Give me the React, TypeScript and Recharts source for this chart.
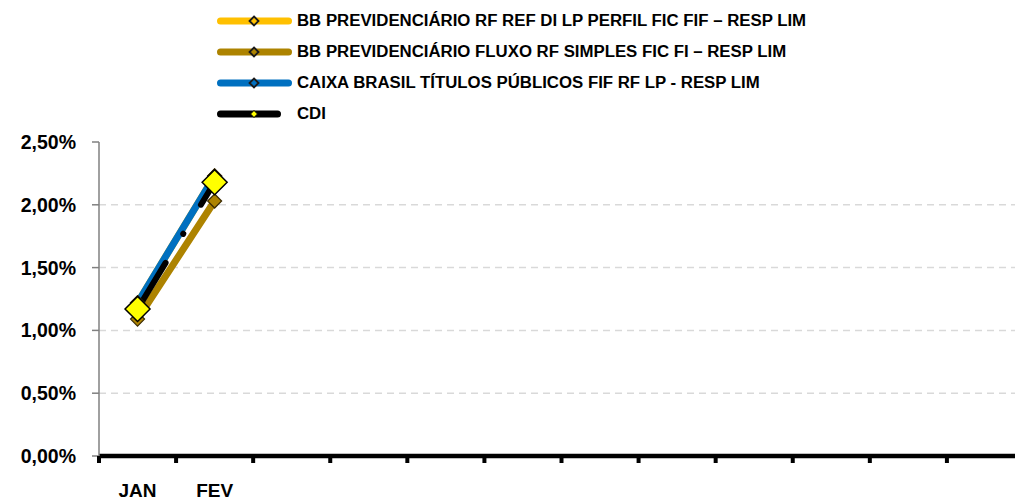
import React from "react"
import { LineChart, Line, XAxis, YAxis, CartesianGrid } from "recharts"

// categories on the x axis and the labels printed under them (only JAN/FEV are labelled)
const months = ["JAN", "FEV", "MAR", "ABR", "MAI", "JUN", "JUL", "AGO", "SET", "OUT", "NOV", "DEZ"]
const monthLabels = ["JAN", "FEV", "", "", "", "", "", "", "", "", "", ""]

// monthly accumulated return (fraction)
const bbPerfil = [0.0122, 0.0223, null, null, null, null, null, null, null, null, null, null]
const bbFluxo = [0.0109, 0.0203, null, null, null, null, null, null, null, null, null, null]
const caixaTitulos = [0.0122, 0.0223, null, null, null, null, null, null, null, null, null, null]
const cdi = [0.0117, 0.0218, null, null, null, null, null, null, null, null, null, null]

const yTicks = [0, 0.005, 0.01, 0.015, 0.02, 0.025]

const series = [
  { key: "perfil", name: "BB PREVIDENCIÁRIO RF REF DI LP PERFIL FIC FIF – RESP LIM", color: "#FFC000" },
  { key: "fluxo", name: "BB PREVIDENCIÁRIO FLUXO RF SIMPLES FIC FI – RESP LIM", color: "#AD8300" },
  { key: "caixa", name: "CAIXA BRASIL TÍTULOS PÚBLICOS FIF RF LP - RESP LIM", color: "#0070C0" },
  { key: "cdi", name: "CDI", color: "#000000" },
]

const data = months.map((m, i) => ({
  month: m,
  perfil: bbPerfil[i],
  fluxo: bbFluxo[i],
  caixa: caixaTitulos[i],
  cdi: cdi[i],
}))

const FONT = "'Liberation Sans', Arial, sans-serif"
const CHART_W = 1030
const CHART_H = 500
const Y_W = 99
const M_RIGHT = 6
const BAND = (CHART_W - Y_W - M_RIGHT) / months.length

const pct = (v: number) => (v * 100).toFixed(2).replace(".", ",") + "%"

function diamond(cx: number, cy: number, r: number) {
  return `M${cx},${cy - r}L${cx + r},${cy}L${cx},${cy + r}L${cx - r},${cy}Z`
}

const smallDot = (color: string) => (props: any) => {
  const { cx, cy, index } = props
  if (cx == null || cy == null) return <g key={index} />
  return <path key={index} d={diamond(cx, cy, 7)} fill={color} stroke="#3a2a00" strokeWidth={1.2} />
}

const bigDot = (props: any) => {
  const { cx, cy, index } = props
  if (cx == null || cy == null) return <g key={index} />
  return <path key={index} d={diamond(cx, cy, 12.5)} fill="#FFFF00" stroke="#000" strokeWidth={1.5} />
}

const MonthTick = (props: any) => {
  const { x, y, index } = props
  const half = BAND / 2
  return (
    <g>
      <line x1={x - half} x2={x - half} y1={y} y2={y + 7} stroke="#000" strokeWidth={4} />
      {index === months.length - 1 && (
        <line x1={x + half} x2={x + half} y1={y} y2={y + 7} stroke="#000" strokeWidth={4} />
      )}
      <text x={x} y={y + 41} textAnchor="middle" fontFamily={FONT} fontWeight="bold" fontSize={19} fill="#000">
        {monthLabels[index]}
      </text>
    </g>
  )
}

function ChartLegend() {
  return (
    <div style={{ position: "absolute", left: 212, top: 5 }}>
      {series.map((s) => {
        const isCdi = s.key === "cdi"
        return (
          <div key={s.key} style={{ display: "flex", alignItems: "center", height: 31 }}>
            <svg width={85} height={14} style={{ flex: "none" }}>
              <line x1={8.5} x2={isCdi ? 65.5 : 76.5} y1={7} y2={7} stroke={s.color} strokeWidth={7} strokeLinecap="round" />
              <path
                d={diamond(42, 7, isCdi ? 3.5 : 4.5)}
                fill={isCdi ? "#FFFF00" : s.color}
                stroke={isCdi ? "#000" : "#1a1a1a"}
                strokeWidth={isCdi ? 1 : 1.8}
              />
            </svg>
            <span style={{ fontFamily: FONT, fontWeight: "bold", fontSize: 16.8, color: "#000", whiteSpace: "nowrap" }}>
              {s.name}
            </span>
          </div>
        )
      })}
    </div>
  )
}

export default function App() {
  return (
    <div style={{ position: "absolute", left: 0, top: 0, width: 1015, height: 500, overflow: "hidden", background: "#fff" }}>
      <ChartLegend />
      <LineChart width={CHART_W} height={CHART_H} data={data} margin={{ top: 142, right: M_RIGHT, bottom: 0, left: 0 }}>
        <CartesianGrid vertical={false} horizontalValues={[0.005, 0.01, 0.015, 0.02]} stroke="#d9d9d9" strokeDasharray="7 5" strokeWidth={1.5} />
        <XAxis
          dataKey="month"
          scale="band"
          height={44}
          axisLine={{ stroke: "#000", strokeWidth: 4.5 }}
          tickLine={false}
          tickSize={0}
          tickMargin={0}
          tick={<MonthTick />}
          interval={0}
        />
        <YAxis
          width={Y_W}
          domain={[0, 0.025]}
          ticks={yTicks}
          tickFormatter={pct}
          axisLine={{ stroke: "#808080", strokeWidth: 1.5 }}
          tickLine={{ stroke: "#808080", strokeWidth: 1.5 }}
          tickSize={7}
          tickMargin={16}
          tick={{ fontFamily: FONT, fontWeight: "bold", fontSize: 19.5, fill: "#000" }}
        />
        {series.map((s) => (
          <Line
            key={s.key}
            dataKey={s.key}
            name={s.name}
            stroke={s.color}
            strokeWidth={s.key === "cdi" ? 6 : 7}
            strokeDasharray={s.key === "cdi" ? "54 34 0.1 34" : undefined}
            strokeLinecap="round"
            dot={s.key === "cdi" ? bigDot : smallDot(s.color)}
            activeDot={false}
            isAnimationActive={false}
          />
        ))}
      </LineChart>
    </div>
  )
}
